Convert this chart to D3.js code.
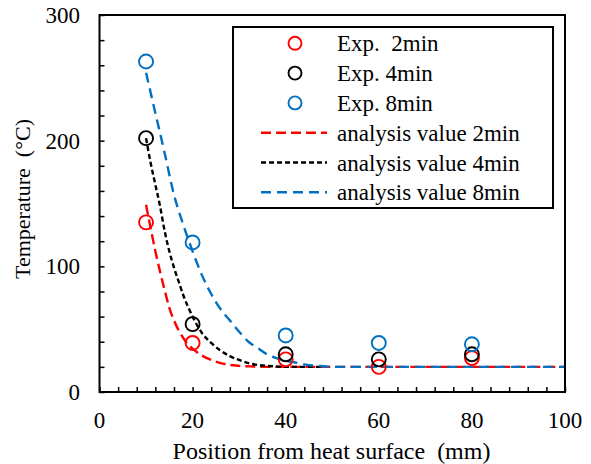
<!DOCTYPE html>
<html>
<head>
<meta charset="utf-8">
<script src="https://cdn.jsdelivr.net/npm/d3@7"></script>
<style>
  html, body { margin: 0; padding: 0; background: #fff; }
  svg { display: block; }
  svg text { font-family: 'Liberation Serif', 'DejaVu Serif', serif; }
</style>
</head>
<body>
<svg id="chart" width="591" height="464" font-family="Liberation Serif, DejaVu Serif, serif"></svg>
<script>
// Measurement positions (mm from the heated surface)
const positions = [10, 20, 40, 60, 80];

// Measured temperatures (°C)
const exp2min = [135, 39, 26, 20, 27];
const exp4min = [202, 54, 30, 26, 30];
const exp8min = [263, 119, 45, 39, 38];

// Analysis curves: [position mm, temperature °C]
const analysis2min = [[10,149],[11,130],[12,112],[13,96],[14,81],[15,67],[16,57],[17,49],[18,43],[19,38],[20,34.5],[22,29],[24,25.5],[26,23],[28,21.5],[30,20.8],[33,20.3],[36,20],[100,20]];
const analysis4min = [[10,202],[11,182],[12,165],[13,148],[14,128],[15,112],[16,99],[17,88],[18,77],[19,68],[20,60],[22,47],[24,39],[26,33],[28,28.5],[30,25.5],[32,23],[34,21.5],[36,20.8],[38,20.3],[40,20],[48,20]];
const analysis8min = [[10,254],[12,222],[14,190],[16,157],[18,133],[20,112],[22,93],[24,78],[26,66],[28,57],[30,48],[32,40],[34,35],[36,30],[38,27],[40,25],[42,23.5],[44,22],[46,21],[48,20.5],[50,20],[100,20]];

// Axis ticks and labels
const xTickLabels = [0, 20, 40, 60, 80, 100];
const yTickLabels = [0, 100, 200, 300];
const xTitle = "Position from heat surface\u00A0\u00A0(mm)";
const yTitle = "Temperature\u00A0\u00A0(\u00B0C)";

const legendLabels = ["Exp.\u00A0\u00A02min", "Exp. 4min", "Exp. 8min",
  "analysis value 2min", "analysis value 4min", "analysis value 8min"];

const RED = "#FF0000", BLACK = "#000000", BLUE = "#0070C0";
const FONT = "'Liberation Serif', 'DejaVu Serif', serif";

const svg = d3.select("#chart");
const plot = { left: 99.5, right: 565, top: 15, bottom: 392 };

const x = d3.scaleLinear().domain([0, 100]).range([plot.left, plot.right]);
const y = d3.scaleLinear().domain([0, 300]).range([plot.bottom, plot.top]);

// Inward minor/major ticks
const xAxis = d3.axisTop(x).tickValues(d3.range(0, 101, 4)).tickSize(5).tickFormat("");
svg.append("g").attr("transform", `translate(0,${plot.bottom})`).call(xAxis)
  .call(g => g.select(".domain").remove())
  .call(g => g.selectAll("line").attr("stroke", "#000").attr("stroke-width", 1.5));

const yAxis = d3.axisRight(y).tickValues(d3.range(0, 301, 20)).tickSize(5).tickFormat("");
svg.append("g").attr("transform", `translate(${plot.left},0)`).call(yAxis)
  .call(g => g.select(".domain").remove())
  .call(g => g.selectAll("line").attr("stroke", "#000").attr("stroke-width", 1.5));

// Tick labels
svg.append("g").selectAll("text").data(xTickLabels).join("text")
  .attr("x", d => x(d)).attr("y", 428).attr("font-family", FONT)
  .attr("text-anchor", "middle").attr("font-size", 23).text(d => d);

svg.append("g").selectAll("text").data(yTickLabels).join("text")
  .attr("x", 80).attr("y", d => y(d) + 8).attr("font-family", FONT)
  .attr("text-anchor", "end").attr("font-size", 23).text(d => d);

// Axis titles
svg.append("text").attr("x", (173 + 490) / 2).attr("y", 459).attr("font-family", FONT)
  .attr("text-anchor", "middle").attr("font-size", 24).text(xTitle);

svg.append("text").attr("transform", `translate(30,199) rotate(-90)`).attr("font-family", FONT)
  .attr("text-anchor", "middle").attr("font-size", 22).text(yTitle);

// Analysis curves
const line = d3.line().x(d => x(d[0])).y(d => y(d[1])).curve(d3.curveMonotoneX);
const curves = [
  { data: analysis2min, color: RED, dash: "10,5" },
  { data: analysis4min, color: BLACK, dash: "5,3" },
  { data: analysis8min, color: BLUE, dash: "10,6" }
];
svg.append("g").selectAll("path").data(curves).join("path")
  .attr("d", d => line(d.data))
  .attr("fill", "none").attr("stroke", d => d.color)
  .attr("stroke-width", 2.4).attr("stroke-dasharray", d => d.dash);

// Measured points
const series = [
  { values: exp2min, color: RED },
  { values: exp4min, color: BLACK },
  { values: exp8min, color: BLUE }
];
series.forEach(s => {
  svg.append("g").selectAll("circle").data(s.values).join("circle")
    .attr("cx", (d, i) => x(positions[i])).attr("cy", d => y(d))
    .attr("r", 7).attr("fill", "none").attr("stroke", s.color).attr("stroke-width", 1.9);
});

// Plot frame
svg.append("rect").attr("x", plot.left).attr("y", plot.top)
  .attr("width", plot.right - plot.left).attr("height", plot.bottom - plot.top)
  .attr("fill", "none").attr("stroke", "#000").attr("stroke-width", 2);

// Legend
const legend = svg.append("g");
legend.append("rect").attr("x", 233).attr("y", 27).attr("width", 320).attr("height", 181)
  .attr("fill", "#fff").attr("stroke", "#000").attr("stroke-width", 2);

const rowY = i => 43.3 + i * 29.8;
const markerColors = [RED, BLACK, BLUE];
markerColors.forEach((c, i) => {
  legend.append("circle").attr("cx", 295).attr("cy", rowY(i)).attr("r", 6.5)
    .attr("fill", "none").attr("stroke", c).attr("stroke-width", 1.9);
});
curves.forEach((c, i) => {
  legend.append("line").attr("x1", 261).attr("x2", 327)
    .attr("y1", rowY(i + 3)).attr("y2", rowY(i + 3))
    .attr("stroke", c.color).attr("stroke-width", 2.4).attr("stroke-dasharray", c.dash);
});
legend.selectAll("text.lbl").data(legendLabels).join("text").attr("class", "lbl")
  .attr("x", 337).attr("y", (d, i) => rowY(i) + 8).attr("font-family", FONT)
  .attr("font-size", 23).text(d => d);
</script>
</body>
</html>
